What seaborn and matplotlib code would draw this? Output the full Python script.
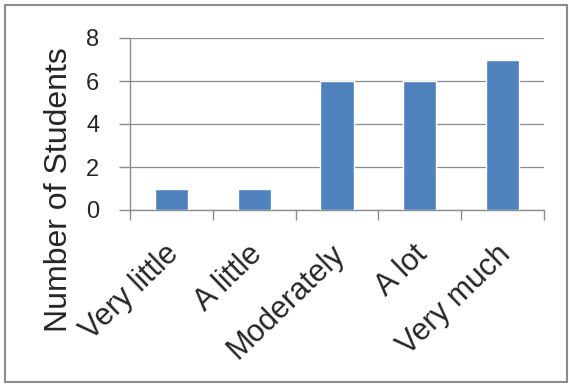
import matplotlib
matplotlib.use("Agg")
import matplotlib.pyplot as plt
import matplotlib.transforms as mtransforms
import seaborn as sns
import pandas as pd
from matplotlib.patches import Rectangle
from matplotlib.ticker import FixedLocator

categories = ["Very little", "A little", "Moderately", "A lot", "Very much"]
counts = [1, 1, 6, 6, 7]
y_ticks = [0, 2, 4, 6, 8]

sns.set_theme(style="white")
plt.rcParams['font.family'] = ['Liberation Sans', 'DejaVu Sans']

df = pd.DataFrame({"Response": categories, "Students": counts})

fig = plt.figure(figsize=(5.69, 3.84), dpi=100)
ax = fig.add_axes([130/569, 1-210/384, (544-130)/569, (210-38)/384])

sns.barplot(data=df, x="Response", y="Students", color="#4F81BD", width=0.4,
            saturation=1, ax=ax, zorder=3)

ax.set_ylim(0, 8)
ax.set_xlim(-0.5, 4.5)
ax.set_yticks(y_ticks)
ax.set_yticklabels([str(v) for v in y_ticks], fontsize=17)
ax.yaxis.grid(True, color="#8c8c8c", linewidth=0.9, zorder=0)
ax.set_axisbelow(True)

ax.set_xticks(range(len(categories)))
ax.xaxis.set_minor_locator(FixedLocator([i - 0.5 for i in range(len(categories) + 1)]))
ax.tick_params(axis="x", which="major", length=0, pad=21)
ax.tick_params(axis="x", which="minor", length=7, color="#8c8c8c", width=1, bottom=True)
ax.tick_params(axis="y", which="major", length=8, color="#8c8c8c", width=1, left=True, pad=14)
ax.set_xticklabels(categories, fontsize=22, rotation=44, ha="right", va="top",
                   rotation_mode="anchor")
offset = mtransforms.ScaledTranslation(-7/100, 0, fig.dpi_scale_trans)
for lbl in ax.get_xticklabels():
    lbl.set_transform(lbl.get_transform() + offset)

ax.set_xlabel("")
ax.set_ylabel("Number of Students", fontsize=23)
ax.yaxis.set_label_coords(-0.135, 0.116)

for side in ["top", "right"]:
    ax.spines[side].set_visible(False)
for side in ["left", "bottom"]:
    ax.spines[side].set_color("#8c8c8c")
    ax.spines[side].set_linewidth(1)

fig.patches.append(Rectangle((5/569, 1-382/384), (567-5)/569, (382-5)/384,
                             transform=fig.transFigure, fill=False,
                             edgecolor="#8c8c8c", linewidth=1.5))

fig.savefig("out.png", dpi=100)
